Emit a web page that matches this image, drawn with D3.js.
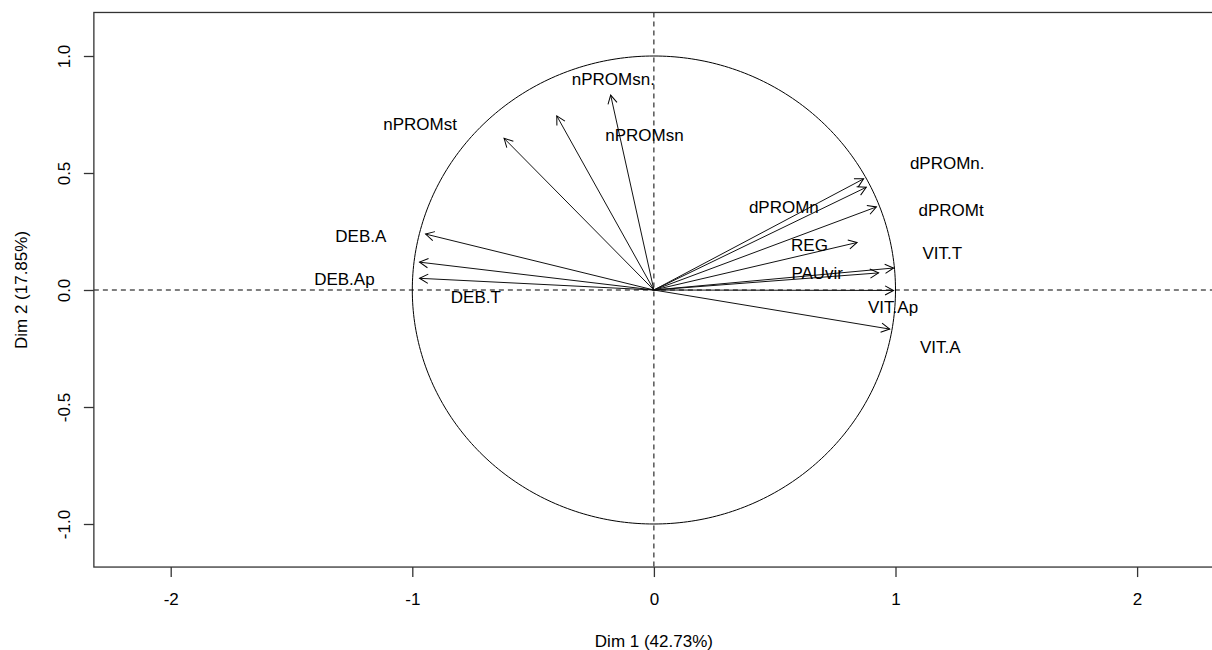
<!DOCTYPE html>
<html>
<head>
<meta charset="utf-8">
<script src="https://cdn.jsdelivr.net/npm/d3@7"></script>
<style>
  html, body { margin: 0; padding: 0; background: #fff; }
  svg { display: block; }
  text { font-family: "Liberation Sans", Arial, sans-serif; fill: #000; }
</style>
</head>
<body>
<svg id="chart" width="1212" height="650"></svg>
<script>
// ---- data (PCA variable correlation circle) ----
const variables = ["nPROMsn.", "nPROMsn", "nPROMst", "DEB.A", "DEB.Ap", "DEB.T",
                   "dPROMn.", "dPROMn", "dPROMt", "REG", "VIT.T", "PAUvir", "VIT.Ap", "VIT.A"];
const dim1 = [-0.179, -0.402, -0.620, -0.945, -0.970, -0.970,
               0.868,  0.879,  0.921,  0.841,  0.992,  0.930,  0.992,  0.976];
const dim2 = [ 0.833,  0.744,  0.648,  0.239,  0.119,  0.050,
               0.475,  0.439,  0.355,  0.203,  0.094,  0.073, -0.002, -0.167];
// label anchor coordinates (in Dim units, as placed by the plotting routine)
const labelDim1 = [-0.168, -0.039, -0.968, -1.213, -1.281, -0.737,
                    1.214,  0.538,  1.230,  0.644,  1.194,  0.676,  0.990,  1.185];
const labelDim2 = [ 0.903,  0.665,  0.709,  0.230,  0.048, -0.029,
                    0.542,  0.354,  0.343,  0.194,  0.159,  0.073, -0.072, -0.243];
const xTicks = [-2, -1, 0, 1, 2];
const yTicks = [-1.0, -0.5, 0.0, 0.5, 1.0];
const xTickLabels = ["-2", "-1", "0", "1", "2"];
const yTickLabels = ["-1.0", "-0.5", "0.0", "0.5", "1.0"];
const xTitle = "Dim 1 (42.73%)";
const yTitle = "Dim 2 (17.85%)";
const xLimits = [-2.318, 2.318];
const yLimits = [-1.184, 1.186];

// ---- layout ----
const svg = d3.select("#chart");
const x = d3.scaleLinear().domain([-2, 2]).range([170.7, 1137.1]);
const y = d3.scaleLinear().domain([-1, 1]).range([524, 56]);
const pLeft = x(xLimits[0]), pRight = x(xLimits[1]);
const pTop = y(yLimits[1]), pBottom = y(yLimits[0]);

// arrow marker
svg.append("defs").append("marker")
  .attr("id", "arrow")
  .attr("viewBox", "-10 -6 12 12")
  .attr("refX", 0).attr("refY", 0)
  .attr("markerWidth", 12).attr("markerHeight", 12)
  .attr("markerUnits", "userSpaceOnUse")
  .attr("orient", "auto")
  .append("path")
  .attr("d", "M-8.5,-4.6 L0,0 L-8.5,4.6")
  .attr("fill", "none").attr("stroke", "#000").attr("stroke-width", 1);

const plot = svg.append("g");

// clip to plot region
svg.append("clipPath").attr("id", "clip").append("rect")
  .attr("x", pLeft).attr("y", pTop).attr("width", pRight - pLeft).attr("height", pBottom - pTop);
const inner = plot.append("g").attr("clip-path", "url(#clip)");

// dashed reference lines
inner.append("line")
  .attr("x1", pLeft).attr("x2", pRight).attr("y1", y(0)).attr("y2", y(0))
  .attr("stroke", "#000").attr("stroke-width", 1).attr("stroke-dasharray", "5,4");
inner.append("line")
  .attr("x1", x(0)).attr("x2", x(0)).attr("y1", pTop).attr("y2", pBottom)
  .attr("stroke", "#000").attr("stroke-width", 1).attr("stroke-dasharray", "5,4");

// unit circle
const circle = d3.range(0, 361).map(a => [Math.cos(a * Math.PI / 180), Math.sin(a * Math.PI / 180)]);
inner.append("path")
  .attr("d", d3.line().x(d => x(d[0])).y(d => y(d[1]))(circle))
  .attr("fill", "none").attr("stroke", "#000").attr("stroke-width", 1);

// arrows
const data = variables.map((v, i) => ({
  name: v, d1: dim1[i], d2: dim2[i], l1: labelDim1[i], l2: labelDim2[i]
}));
inner.selectAll("line.arrow").data(data).enter().append("line")
  .attr("class", "arrow")
  .attr("x1", x(0)).attr("y1", y(0))
  .attr("x2", d => x(d.d1)).attr("y2", d => y(d.d2))
  .attr("stroke", "#111").attr("stroke-width", 1)
  .attr("marker-end", "url(#arrow)");

// labels
inner.selectAll("text.lab").data(data).enter().append("text")
  .attr("class", "lab")
  .attr("x", d => x(d.l1)).attr("y", d => y(d.l2))
  .attr("dy", "0.36em")
  .attr("text-anchor", "middle")
  .style("font-size", "17px")
  .text(d => d.name);

// box
plot.append("rect")
  .attr("x", pLeft).attr("y", pTop).attr("width", pRight - pLeft).attr("height", pBottom - pTop)
  .attr("fill", "none").attr("stroke", "#333").attr("stroke-width", 1.3);

// x axis
const xAxis = svg.append("g").attr("transform", `translate(0,${pBottom})`)
  .call(d3.axisBottom(x).tickValues(xTicks).tickSize(10).tickPadding(0)
    .tickFormat((d, i) => xTickLabels[i]));
xAxis.select(".domain").remove();
xAxis.selectAll(".tick line").attr("stroke", "#333").attr("stroke-width", 1.3);
xAxis.selectAll(".tick text")
  .attr("y", 605 - pBottom).attr("dy", null)
  .style("font-size", "17px").style("font-family", "'Liberation Sans', Arial, sans-serif")
  .attr("fill", "#000");

// y axis
const yAxis = svg.append("g").attr("transform", `translate(${pLeft},0)`)
  .call(d3.axisLeft(y).tickValues(yTicks).tickSize(10)
    .tickFormat((d, i) => yTickLabels[i]));
yAxis.select(".domain").remove();
yAxis.selectAll(".tick line").attr("stroke", "#333").attr("stroke-width", 1.3);
yAxis.selectAll(".tick text")
  .attr("x", null).attr("dy", null)
  .attr("transform", `translate(${70 - pLeft},0) rotate(-90)`)
  .attr("text-anchor", "middle")
  .style("font-size", "17px").style("font-family", "'Liberation Sans', Arial, sans-serif")
  .attr("fill", "#000");

// axis titles
svg.append("text")
  .attr("x", x(0)).attr("y", 646.5)
  .attr("text-anchor", "middle").style("font-size", "17px")
  .text(xTitle);
svg.append("text")
  .attr("transform", `translate(27,${y(0)}) rotate(-90)`)
  .attr("text-anchor", "middle").style("font-size", "17px")
  .text(yTitle);
</script>
</body>
</html>
